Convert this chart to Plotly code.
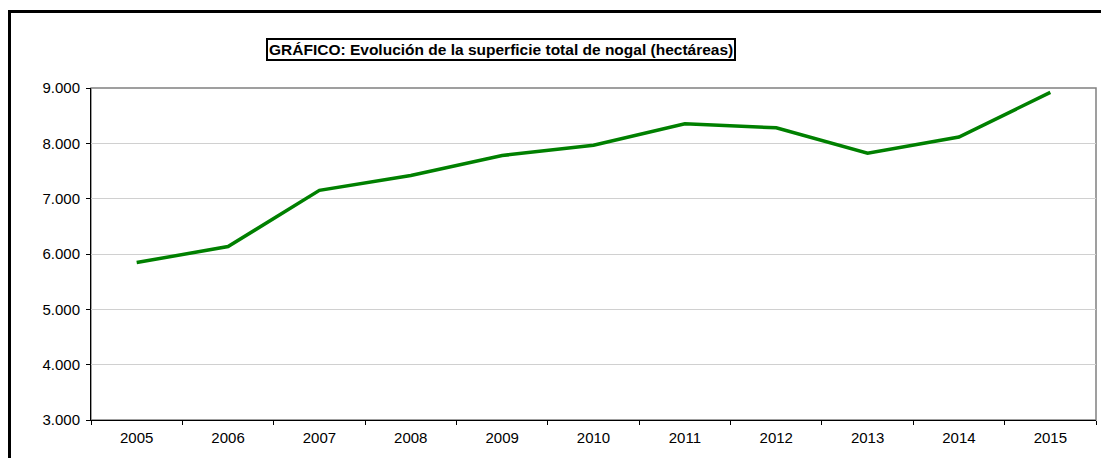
import plotly.graph_objects as go

years = ["2005", "2006", "2007", "2008", "2009", "2010", "2011", "2012", "2013", "2014", "2015"]
hectareas = [5845, 6135, 7150, 7420, 7780, 7965, 8355, 8280, 7820, 8115, 8920]
y_ticks = [3000, 4000, 5000, 6000, 7000, 8000, 9000]
y_ticktext = ["3.000", "4.000", "5.000", "6.000", "7.000", "8.000", "9.000"]
title_text = "GRÁFICO: Evolución de la superficie total de nogal (hectáreas)"

# page body has an 8px margin, so the figure origin sits at (8, 8) on screen
OFF = 8
W, H = 1109 - OFF, 466 - 2 * OFF
L = 91 - OFF
R = W - (1096 - OFF)
T = 87.5 - OFF
B = H - (421.7 - OFF)
pw = W - L - R
ph = H - T - B

fig = go.Figure()
fig.add_trace(go.Scatter(
    x=years, y=hectareas, mode="lines",
    line=dict(color="#008000", width=3.5),
    showlegend=False, hoverinfo="x+y",
))

font_family = "Liberation Sans, Arial, sans-serif"

fig.update_layout(
    width=W, height=H,
    autosize=False,
    margin=dict(l=L, r=R, t=T, b=B, pad=0),
    paper_bgcolor="white",
    plot_bgcolor="white",
    font=dict(family=font_family, size=15, color="black"),
    xaxis=dict(
        type="category",
        range=[-0.5, 10.5],
        showgrid=False,
        showline=True, linecolor="black", linewidth=1,
        ticks="outside", ticklen=4, tickcolor="black", tickwidth=1,
        tickson="boundaries",
        ticklabelstandoff=4,
        tickfont=dict(size=15, family=font_family, color="black"),
        zeroline=False,
        fixedrange=True,
    ),
    yaxis=dict(
        range=[3000, 9000],
        tickvals=y_ticks, ticktext=y_ticktext,
        showgrid=True, gridcolor="#d0d0d0", gridwidth=1,
        showline=True, linecolor="black", linewidth=1,
        ticks="outside", ticklen=4, tickcolor="black", tickwidth=1,
        ticklabelstandoff=3,
        tickfont=dict(size=15, family=font_family, color="black"),
        zeroline=False,
        fixedrange=True,
    ),
)

# plot-area frame (gray top/right)
fig.add_shape(type="rect", xref="paper", yref="paper", x0=0, x1=1, y0=0, y1=1,
              line=dict(color="#808080", width=1.5), layer="below")

# outer chart border: only its left and top edges fall inside the view
bx0 = (1.5 - L) / pw
by1 = 1 + (T - 2.5) / ph
fig.add_shape(type="line", xref="paper", yref="paper",
              x0=bx0, x1=bx0, y0=-B / ph - 0.05, y1=by1 + 1.5 / ph,
              line=dict(color="black", width=3))
fig.add_shape(type="line", xref="paper", yref="paper",
              x0=bx0 - 1.5 / pw, x1=1 + (R + 10) / pw, y0=by1, y1=by1,
              line=dict(color="black", width=3))

# title box
fig.add_annotation(
    xref="paper", yref="paper",
    x=((265 + 737) / 2 - OFF - L) / pw, y=1 + (T - (48.7 - OFF)) / ph,
    xanchor="center", yanchor="middle",
    text="<b>" + title_text + "</b>",
    showarrow=False,
    font=dict(family=font_family, size=15.5, color="black"),
    bordercolor="black", borderwidth=2, borderpad=1,
    bgcolor="white",
)

fig.write_html("out.html")
